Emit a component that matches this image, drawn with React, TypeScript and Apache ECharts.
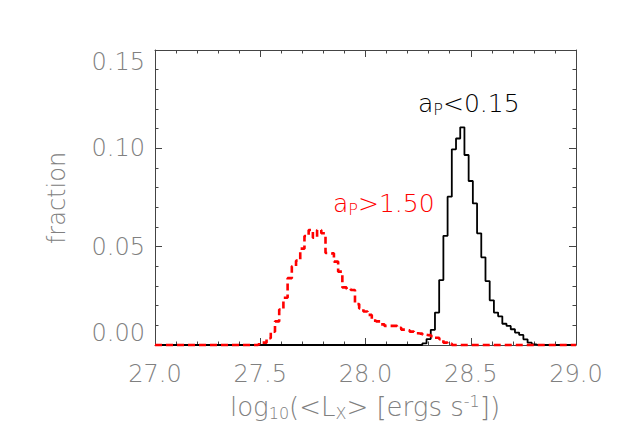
import React, { useEffect, useRef } from "react";
import * as echarts from "echarts";

// Black histogram: a_P < 0.15 (bin centres, fraction)
const blackX = [28.26, 28.28, 28.30, 28.32, 28.34, 28.36, 28.38, 28.40, 28.42, 28.44, 28.46, 28.48, 28.50, 28.52, 28.54, 28.56, 28.58, 28.60, 28.62, 28.64, 28.66, 28.68, 28.70, 28.72, 28.74, 28.76, 28.78, 28.80, 28.82];
const blackY = [0, 0.0008, 0.003, 0.0077, 0.0165, 0.033, 0.0555, 0.0754, 0.0995, 0.105, 0.1107, 0.0966, 0.0834, 0.072, 0.0568, 0.0446, 0.0325, 0.0227, 0.0165, 0.0146, 0.0108, 0.0097, 0.008, 0.0063, 0.0051, 0.0029, 0.0012, 0.0003, 0];

// Red histogram: a_P > 1.50
const redX = [27.48, 27.50, 27.52, 27.54, 27.56, 27.58, 27.60, 27.62, 27.64, 27.66, 27.68, 27.70, 27.72, 27.74, 27.76, 27.78, 27.80, 27.82, 27.84, 27.86, 27.88, 27.90, 27.92, 27.94, 27.96, 27.98, 28.00, 28.02, 28.04, 28.06, 28.08, 28.10, 28.12, 28.14, 28.16, 28.18, 28.20, 28.22, 28.24, 28.26, 28.28, 28.30, 28.32, 28.34, 28.36, 28.38, 28.40, 28.42];
const redY = [0, 0.0004, 0.0012, 0.0034, 0.0068, 0.012, 0.018, 0.024, 0.034, 0.040, 0.0429, 0.049, 0.0554, 0.0585, 0.0545, 0.0585, 0.0568, 0.0468, 0.0466, 0.0424, 0.0373, 0.0293, 0.0285, 0.028, 0.0208, 0.0186, 0.017, 0.0153, 0.0124, 0.012, 0.0105, 0.0097, 0.0097, 0.0097, 0.0088, 0.0078, 0.0075, 0.0068, 0.006, 0.0058, 0.0052, 0.005, 0.0045, 0.0037, 0.003, 0.0012, 0.0008, 0];

const xRange = [27.0, 29.0];
const yRange = [0.0, 0.15];
const xTickStep = 0.5;
const yTickStep = 0.05;

const labelBlack = "{m|a}{s|P}{m|<0.15}";
const labelRed = "{m|a}{s|P}{m|>1.50}";
const xTitle = "{m|log}{s|10}{m|(<L}{s|X}{m|> [ergs s}{p|-1}{m|])}";
const yTitle = "fraction";

const FONT = "'DejaVu Sans', 'Noto Sans', sans-serif";
const AXIS = "#444444";
const TXT = "#808080";

function series(xs: number[], ys: number[]) {
  const pts: number[][] = [[xRange[0], 0]];
  xs.forEach((x, i) => pts.push([x, ys[i]]));
  pts.push([xRange[1], 0]);
  return pts;
}

export default function App() {
  const ref = useRef<HTMLDivElement>(null);
  useEffect(() => {
    if (!ref.current) return;
    const chart = echarts.init(ref.current, undefined, { renderer: "svg" });
    const tickCommon = {
      axisLine: { show: true, onZero: false, lineStyle: { color: AXIS, width: 1 } },
      axisTick: { show: true, inside: true, length: 7, lineStyle: { color: AXIS, width: 1 } },
      minorTick: { show: true, splitNumber: 5, length: 3.5, lineStyle: { color: AXIS, width: 1 } },
      splitLine: { show: false },
      minorSplitLine: { show: false },
    };
    const labelStyle = { color: TXT, fontSize: 24, fontFamily: FONT, fontWeight: 200 };
    const rich = (color: string, size: number, sub: number) => ({
      m: { fontSize: size, fontFamily: FONT, fontWeight: 200, fill: color, lineHeight: 28, verticalAlign: "middle" },
      s: { fontSize: sub, fontFamily: FONT, fontWeight: 200, fill: color, lineHeight: sub + 1, verticalAlign: "bottom" },
      p: { fontSize: sub, fontFamily: FONT, fontWeight: 200, fill: color, lineHeight: sub + 1, verticalAlign: "top" },
    });
    chart.setOption({
      animation: false,
      grid: { left: 155, top: 50, right: 47, bottom: 100 },
      xAxis: [
        {
          type: "value", min: xRange[0], max: xRange[1], interval: xTickStep, position: "bottom",
          ...tickCommon,
          axisLabel: { ...labelStyle, margin: 17, formatter: (v: number) => v.toFixed(1) },
        },
        {
          type: "value", min: xRange[0], max: xRange[1], interval: xTickStep, position: "top",
          ...tickCommon,
          axisLabel: { show: false },
        },
      ],
      yAxis: [
        {
          type: "value", min: yRange[0], max: yRange[1], interval: yTickStep, position: "left",
          ...tickCommon,
          axisLabel: {
            ...labelStyle, margin: 10, formatter: (v: number) => v.toFixed(2),
            verticalAlignMaxLabel: "top", verticalAlignMinLabel: "bottom",
          },
        },
        {
          type: "value", min: yRange[0], max: yRange[1], interval: yTickStep, position: "right",
          ...tickCommon,
          axisLabel: { show: false },
        },
      ],
      series: [
        {
          type: "line", step: "middle", data: series(blackX, blackY), showSymbol: false, symbol: "none",
          clip: false, lineStyle: { color: "#000000", width: 1.8 }, z: 3,
        },
        {
          type: "line", step: "middle", data: series(redX, redY), showSymbol: false, symbol: "none",
          clip: false, lineStyle: { color: "#ff0000", width: 2.6, type: [7, 4] }, z: 4,
        },
      ],
      graphic: [
        {
          type: "text", x: 418, y: 103, z: 10,
          style: { text: labelBlack, rich: rich("#000000", 25, 16), fill: "#000000", align: "left", verticalAlign: "middle" },
        },
        {
          type: "text", x: 333, y: 203, z: 10,
          style: { text: labelRed, rich: rich("#ff0000", 25, 16), fill: "#ff0000", align: "left", verticalAlign: "middle" },
        },
        {
          type: "text", x: 365, y: 407, z: 10,
          style: { text: xTitle, rich: rich(TXT, 26, 16), fill: TXT, align: "center", verticalAlign: "middle" },
        },
        {
          type: "text", x: 57, y: 198, rotation: Math.PI / 2, z: 10,
          style: { text: yTitle, fontSize: 24, fontFamily: FONT, fontWeight: 200, fill: TXT, align: "center", verticalAlign: "middle" },
        },
      ],
    });
    return () => chart.dispose();
  }, []);
  return (
    <div
      ref={ref}
      style={{ position: "fixed", left: 0, top: 0, width: 623, height: 445, background: "#ffffff" }}
    />
  );
}
